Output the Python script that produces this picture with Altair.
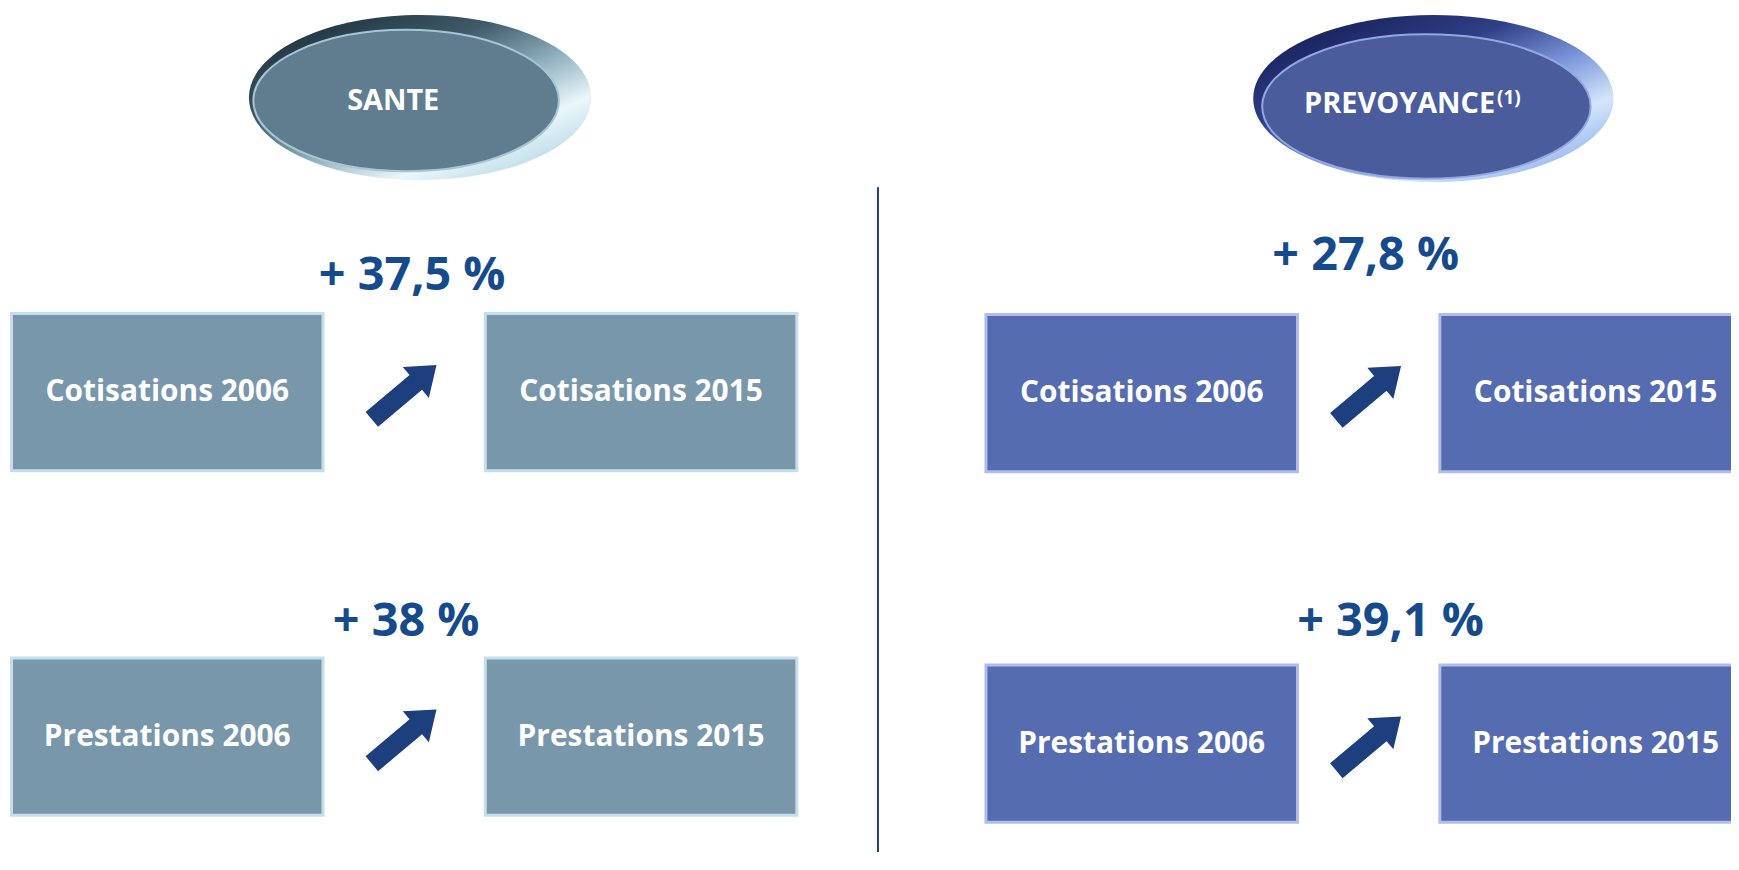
import altair as alt
import pandas as pd

# ---- data -------------------------------------------------------------
PANELS = ["SANTE", "PREVOYANCE"]
PANEL_NOTES = ["", "(1)"]
METRICS = ["Cotisations", "Prestations"]
YEARS = [2006, 2015]
GROWTH_SANTE = [37.5, 38.0]
GROWTH_PREVOYANCE = [27.8, 39.1]
GROWTH = {"SANTE": GROWTH_SANTE, "PREVOYANCE": GROWTH_PREVOYANCE}

# ---- styles / layout (not data) ---------------------------------------
W, H = 1731, 846
FONT = "Open Sans"
PCT_COLOR = "#154B8C"
ARROW_COLOR = "#1E3F7D"
DIVIDER_COLOR = "#1F3F7A"

STYLE = {
    "SANTE": dict(
        box="#7897AB", edge="#C6DEEA", oval="#5F7D8E", ring="#A9C5D3",
        rim_stops=[("#1C2E3A", 0.0), ("#3F5A68", 0.35), ("#8FB0BE", 0.6),
                   ("#EAF7FB", 0.82), ("#BFDDE8", 1.0)],
        xr=[160, 636], yr=[384, 730], pct_y=[267, 615], pct_dx=[8, 2],
        inner=(400, 91, 307, 142), outer=(414, 88, 344, 166),
        title=(387, 92, "center"), note=None,
    ),
    "PREVOYANCE": dict(
        box="#566CB0", edge="#AEBDEE", oval="#4B5C9C", ring="#93A7E0",
        rim_stops=[("#141D55", 0.0), ("#2F3F86", 0.35), ("#7C98DA", 0.6),
                   ("#D5E6FB", 0.82), ("#9CBBEE", 1.0)],
        xr=[1139, 1595], yr=[385, 737], pct_y=[247, 615], pct_dx=[-3, 22],
        inner=(1425, 97, 330, 145), outer=(1432, 89, 362, 168),
        title=(1494, 95, "right"), note=(1496, 88),
    ),
}

ARROW_PATH = "M -1,-0.23 L 0.36,-0.23 L 0.36,-0.48 L 1,0 L 0.36,0.48 L 0.36,0.23 L -1,0.23 Z"


def ellipse_path(w, h):
    ry = h / w
    return f"M -1,0 A 1,{ry:.4f} 0 1,1 1,0 A 1,{ry:.4f} 0 1,1 -1,0 Z"


def fmt_growth(v):
    s = f"{v:g}".replace(".", ",")
    return f"+ {s} %"


def panel(name, note):
    st = STYLE[name]
    boxes = pd.DataFrame(
        [{"metric": m, "year": y, "label": f"{m} {y}"} for m in METRICS for y in YEARS]
    )
    mid = sum(YEARS) / len(YEARS)
    growth = pd.DataFrame(
        {"metric": METRICS, "year": [mid] * len(METRICS),
         "label": [fmt_growth(v) for v in GROWTH[name]]}
    )
    head = pd.DataFrame({"panel": [name], "note": [note]})

    xs = alt.X("year:Q", scale=alt.Scale(domain=YEARS, range=st["xr"]), axis=None)
    yb = alt.Y("metric:N", scale=alt.Scale(type="point", domain=METRICS, range=st["yr"], padding=0), axis=None)

    grad = alt.Gradient(
        gradient="linear", x1=0.15, y1=0.0, x2=0.9, y2=0.85,
        stops=[alt.GradientStop(color=c, offset=o) for c, o in st["rim_stops"]],
    )
    ox, oy, ow, oh = st["outer"]
    outer = alt.Chart(head).mark_point(
        shape=ellipse_path(ow, oh), size=ow * ow, filled=True, opacity=1,
        fill=grad, strokeWidth=0,
    ).encode(x=alt.value(ox), y=alt.value(oy))
    cx, cy, w, h = st["inner"]
    inner = alt.Chart(head).mark_point(
        shape=ellipse_path(w, h), size=w * w, filled=True, opacity=1,
        fill=st["oval"], stroke=st["ring"], strokeWidth=2,
    ).encode(x=alt.value(cx), y=alt.value(cy))

    tx, ty, talign = st["title"]
    title = alt.Chart(head).mark_text(
        font=FONT, fontSize=29, fontWeight="bold", color="white",
        align=talign, baseline="middle",
    ).encode(x=alt.value(tx), y=alt.value(ty), text="panel:N")
    layers = [outer, inner, title]
    if st["note"]:
        nx, ny = st["note"]
        layers.append(
            alt.Chart(head).mark_text(
                font=FONT, fontSize=19, fontWeight="bold", color="white",
                align="left", baseline="middle",
            ).encode(x=alt.value(nx), y=alt.value(ny), text="note:N")
        )

    rects = alt.Chart(boxes).mark_rect(
        width=313, height=158, color=st["box"], stroke=st["edge"], strokeWidth=3
    ).encode(x=xs, y=yb)
    rect_text = alt.Chart(boxes).mark_text(
        font=FONT, fontSize=30, fontWeight="bold", color="white", baseline="middle"
    ).encode(x=xs, y=yb, text="label:N")
    arrows = alt.Chart(growth).mark_point(
        shape=ARROW_PATH, size=7200, angle=320, filled=True, opacity=1,
        color=ARROW_COLOR,
    ).encode(x=xs, y=yb)

    pct_layers = []
    for i, m in enumerate(METRICS):
        pct_layers.append(
            alt.Chart(growth[growth["metric"] == m]).mark_text(
                font=FONT, fontSize=47, fontWeight="bold", color=PCT_COLOR,
                baseline="middle", dx=st["pct_dx"][i],
            ).encode(x=xs, y=alt.value(st["pct_y"][i]), text="label:N")
        )

    return alt.layer(*layers, rects, rect_text, arrows, *pct_layers)


divider = alt.Chart(pd.DataFrame({"d": [0]})).mark_rule(
    color=DIVIDER_COLOR, strokeWidth=2
).encode(x=alt.value(874), y=alt.value(178), y2=alt.value(H))

chart = (
    alt.layer(
        panel(PANELS[0], PANEL_NOTES[0]),
        panel(PANELS[1], PANEL_NOTES[1]),
        divider,
    )
    .resolve_scale(x="independent", y="independent")
    .properties(width=W, height=H, padding=0, autosize=alt.AutoSizeParams(type="none"),
                background="white")
    .configure_view(stroke=None)
)

chart.save("out.html", embed_options={"renderer": "svg", "actions": False})
